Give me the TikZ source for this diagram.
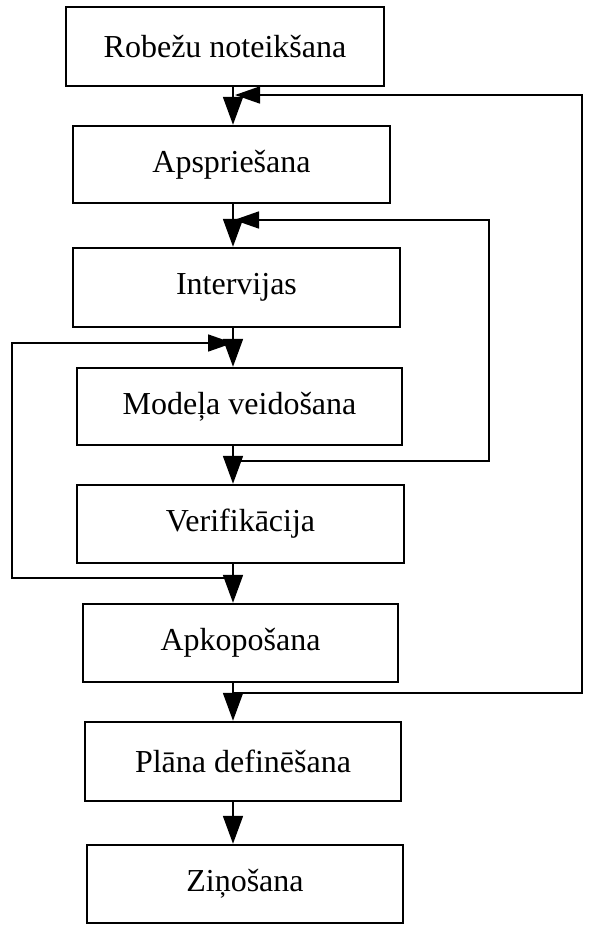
\documentclass[tikz,border=0pt]{standalone}
\usepackage{fontspec}
\setmainfont{Liberation Serif}
\usetikzlibrary{arrows.meta}
\begin{document}
\begin{tikzpicture}[x=1pt,y=-1pt,
  stepbox/.style={draw=black, line width=2.4pt, rectangle, inner sep=0pt,
     font=\fontsize{32}{38}\selectfont},
  flow/.style={draw=black, line width=1.8pt, -{Triangle[length=28pt,width=20pt]}},
  back/.style={draw=black, line width=1.6pt, -{Triangle[length=25pt,width=17pt]}},
  backline/.style={draw=black, line width=1.6pt}]
\useasboundingbox (0,0) rectangle (600,935);
\node[stepbox, minimum width=318pt, minimum height=79pt] (b1) at (225,46.5) {Robežu noteikšana};
\node[stepbox, minimum width=317pt, minimum height=77pt] (b2) at (231.5,164.5) {Apspriešana};
\node[stepbox, minimum width=327pt, minimum height=79pt] (b3) at (236.5,287.5) {Intervijas};
\node[stepbox, minimum width=325pt, minimum height=77pt] (b4) at (239.5,406.5) {Modeļa veidošana};
\node[stepbox, minimum width=327pt, minimum height=78pt] (b5) at (240.5,524) {Verifikācija};
\node[stepbox, minimum width=315pt, minimum height=78pt] (b6) at (240.5,643) {Apkopošana};
\node[stepbox, minimum width=316pt, minimum height=79pt] (b7) at (243,761.5) {Plāna definēšana};
\node[stepbox, minimum width=316pt, minimum height=78pt] (b8) at (245,884) {Ziņošana};
\coordinate (m) at (233,0);
% main flow
\draw[flow] (b1.south -| m) -- (b2.north -| m);
\draw[flow] (b2.south -| m) -- (b3.north -| m);
\draw[flow] (b3.south -| m) -- (b4.north -| m);
\draw[flow] (b4.south -| m) -- (b5.north -| m);
\draw[flow] (b5.south -| m) -- (b6.north -| m);
\draw[flow] (b6.south -| m) -- (b7.north -| m);
\draw[flow] (b7.south -| m) -- (b8.north -| m);
% outer loop: after Apkopošana back to before Apspriešana
\coordinate (o1) at (233,693);
\coordinate (o2) at (582,693);
\coordinate (o3) at (582,95);
\coordinate (o4) at (235,95);
\draw[back] (o1) -- (o2) -- (o3) -- (o4);
% middle loop: after Modeļa veidošana back to before Intervijas
\coordinate (c1) at (233,461);
\coordinate (c2) at (489,461);
\coordinate (c3) at (489,220);
\coordinate (c4) at (234,220);
\draw[back] (c1) -- (c2) -- (c3) -- (c4);
% left loop: after Verifikācija back to before Modeļa veidošana
\coordinate (l1) at (233,578);
\coordinate (l2) at (12,578);
\coordinate (l3) at (12,343);
\coordinate (l4) at (233,343);
\draw[back] (l1) -- (l2) -- (l3) -- (l4);
\end{tikzpicture}
\end{document}
